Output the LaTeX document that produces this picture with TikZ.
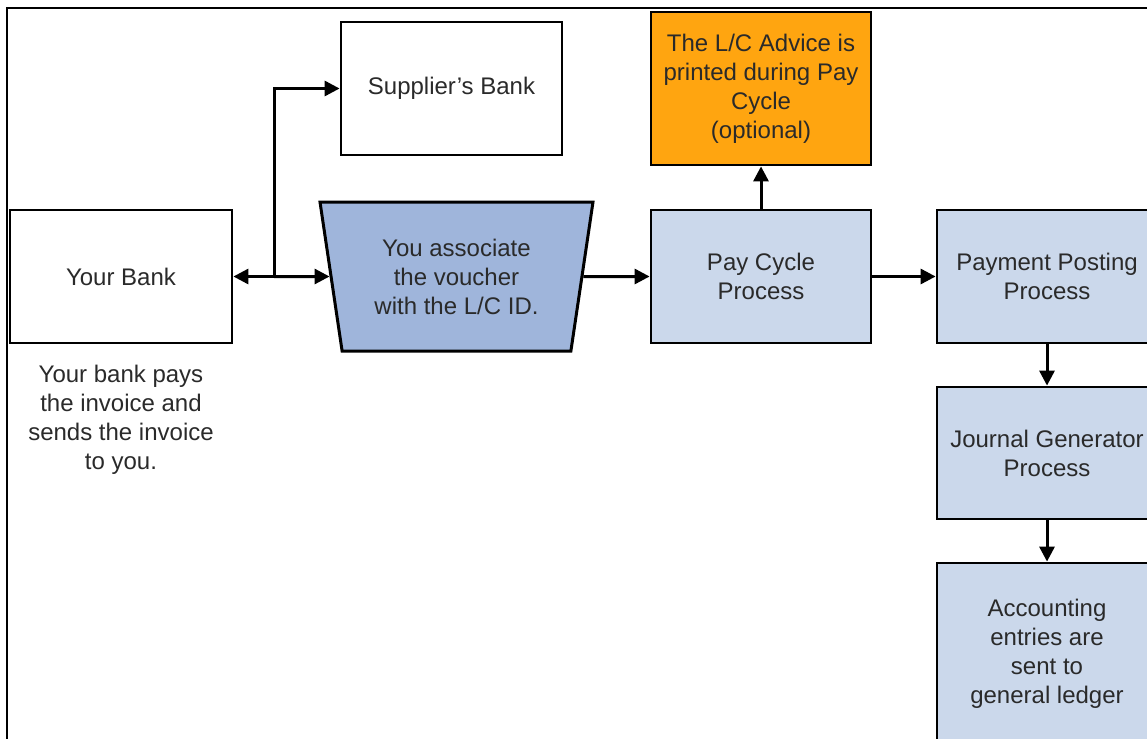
\documentclass[tikz,border=0pt]{standalone}
\usepackage{fontspec}
\setmainfont{Liberation Sans}
\usepackage{xcolor}
\usepackage{tikz}
\usetikzlibrary{arrows.meta, shapes.geometric}

\definecolor{paleblue}{HTML}{CBD8EB}
\definecolor{midblue}{HTML}{9FB5DB}
\definecolor{advorange}{HTML}{FFA510}
\definecolor{inkgray}{HTML}{2A2A2A}

\begin{document}
\begin{tikzpicture}[
		x=1pt, y=-1pt,
		every node/.style={font={\fontsize{24}{29}\selectfont}, text=inkgray, align=center},
		box/.style={draw=black, line width=2.8pt, minimum width=220pt, minimum height=133pt, inner sep=0pt},
		plain box/.style={box, fill=white},
		proc box/.style={box, fill=paleblue},
		opt box/.style={box, fill=advorange},
		assoc box/.style={draw=black, fill=midblue, line width=3pt, trapezium, shape border rotate=180,
			trapezium angle=73.7, trapezium stretches body, minimum width=273pt, minimum height=149pt, inner sep=0pt},
		link/.style={line width=3pt, -{Triangle[length=15pt, width=15pt]}},
		frame/.style={line width=1.6pt}
		]

	\useasboundingbox (0, 0) rectangle (1147, 738);
	\clip (0, 0) rectangle (1147, 738);

	% Outer frame
	\draw[frame] (7, 760) -- (7, 8) -- (1170, 8);

	% Banks
	\node[plain box, minimum width=222pt] (bank) at (121, 276.5) {Your Bank};
	\node (bankcap) at (121, 420) {Your bank pays\\the invoice and\\sends the invoice\\to you.};
	\node[plain box, minimum width=221pt] (supp) at (451.5, 88.5) {Supplier’s Bank};

	% Voucher association
	\node[assoc box] (assoc) at (456.5, 276.5) {You associate\\the voucher\\with the L/C ID.};

	% Pay cycle and advice
	\node[proc box] (pay) at (761, 276.5) {Pay Cycle\\Process};
	\node[opt box, minimum height=153pt] (advice) at (761, 88.5) {The L/C Advice is\\printed during Pay\\Cycle\\(optional)};

	% Posting chain
	\node[proc box] (posting) at (1047, 276.5) {Payment Posting\\Process};
	\node[proc box, minimum height=132pt] (journal) at (1047, 453) {Journal Generator\\Process};
	\node[proc box, minimum height=182pt] (acct) at (1047, 654) {Accounting\\entries are\\sent to\\general ledger};

	% Connectors
	\coordinate (jn) at (274, 276.5);
	\draw[link] (jn) -- (bank);
	\draw[link] (jn) -- (assoc);
	\draw[link] (jn) |- (supp);
	\draw[link] (assoc) -- (pay);
	\draw[link] (pay) -- (advice);
	\draw[link] (pay) -- (posting);
	\draw[link] (posting) -- (journal);
	\draw[link] (journal) -- (acct);

\end{tikzpicture}
\end{document}
